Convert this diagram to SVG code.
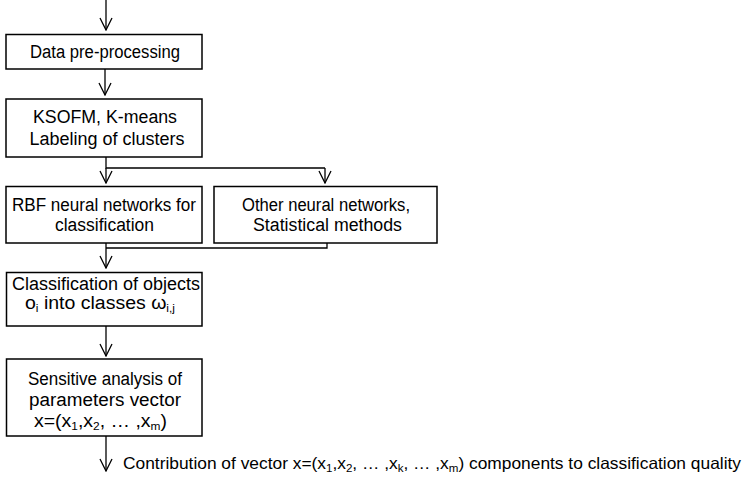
<svg xmlns="http://www.w3.org/2000/svg" width="746" height="478" viewBox="0 0 746 478">
  <style>
    .box { fill: #ffffff; stroke: #000000; stroke-width: 1.5; }
    .wire { fill: none; stroke: #000000; stroke-width: 1.3; }
    .lbl { font-family: "Liberation Sans", Arial, sans-serif; font-size: 18px; fill: #000000; text-anchor: middle; }
    .note { font-family: "Liberation Sans", Arial, sans-serif; font-size: 16.5px; fill: #000000; }
    .sub { font-size: 11px; }
  </style>
  <defs>
    <!-- open "V" arrowhead, tip at the end of the line -->
    <marker id="arrow" viewBox="0 0 14 14" refX="13" refY="7" markerWidth="14" markerHeight="14" markerUnits="userSpaceOnUse" orient="auto">
      <path d="M1,1 L13,7 L1,13" fill="none" stroke="#000000" stroke-width="1.3"/>
    </marker>
  </defs>
  <rect width="746" height="478" fill="#ffffff"/>

  <g id="connectors">
    <!-- input -->
    <path class="wire" d="M106,0 V30" marker-end="url(#arrow)"/>
    <!-- pre-processing to clustering -->
    <path class="wire" d="M105,69 V95" marker-end="url(#arrow)"/>
    <!-- branch to the two classifier families -->
    <path class="wire" d="M106,157 V168 H325"/>
    <path class="wire" d="M106,168 V183" marker-end="url(#arrow)"/>
    <path class="wire" d="M325,168 V183" marker-end="url(#arrow)"/>
    <!-- merge into classification -->
    <path class="wire" d="M327,243 V248 H106"/>
    <path class="wire" d="M106,243 V268" marker-end="url(#arrow)"/>
    <!-- classification to sensitivity analysis -->
    <path class="wire" d="M106,326 V356" marker-end="url(#arrow)"/>
    <!-- output -->
    <path class="wire" d="M106,436 V471" marker-end="url(#arrow)"/>
  </g>

  <g id="preprocessing">
    <rect class="box" x="6" y="34.5" width="196" height="34.5"/>
    <text class="lbl" x="105" y="58" textLength="150" lengthAdjust="spacingAndGlyphs">Data pre-processing</text>
  </g>

  <g id="clustering">
    <rect class="box" x="6" y="99" width="196" height="58"/>
    <text class="lbl" x="105" y="123" textLength="144" lengthAdjust="spacingAndGlyphs">KSOFM, K-means</text>
    <text class="lbl" x="107" y="145" textLength="155" lengthAdjust="spacingAndGlyphs">Labeling of clusters</text>
  </g>

  <g id="rbf">
    <rect class="box" x="6" y="186.5" width="196" height="56.5"/>
    <text class="lbl" x="104" y="211" textLength="184" lengthAdjust="spacingAndGlyphs">RBF neural networks for</text>
    <text class="lbl" x="104.5" y="231" textLength="99" lengthAdjust="spacingAndGlyphs">classification</text>
  </g>

  <g id="other-methods">
    <rect class="box" x="214" y="186.5" width="223" height="56.5"/>
    <text class="lbl" x="326" y="211" textLength="168" lengthAdjust="spacingAndGlyphs">Other neural networks,</text>
    <text class="lbl" x="327.5" y="231" textLength="149" lengthAdjust="spacingAndGlyphs">Statistical methods</text>
  </g>

  <g id="classification">
    <rect class="box" x="6.5" y="272.5" width="195.5" height="53.5"/>
    <text class="lbl" x="106" y="290" textLength="188" lengthAdjust="spacingAndGlyphs">Classification of objects</text>
    <text class="lbl" x="100" y="309" textLength="150" lengthAdjust="spacingAndGlyphs">o<tspan class="sub" dy="3">i</tspan><tspan dy="-3"> into classes ω</tspan><tspan class="sub" dy="3">i,j</tspan></text>
  </g>

  <g id="sensitivity">
    <rect class="box" x="6.5" y="359" width="195.5" height="77"/>
    <text class="lbl" x="105" y="385" textLength="154" lengthAdjust="spacingAndGlyphs">Sensitive analysis of</text>
    <text class="lbl" x="105" y="406" textLength="152" lengthAdjust="spacingAndGlyphs">parameters vector</text>
    <text class="lbl" x="100.5" y="427" textLength="133" lengthAdjust="spacingAndGlyphs">x=(x<tspan class="sub" dy="3">1</tspan><tspan dy="-3">,x</tspan><tspan class="sub" dy="3">2</tspan><tspan dy="-3">, … ,x</tspan><tspan class="sub" dy="3">m</tspan><tspan dy="-3">)</tspan></text>
  </g>

  <g id="result">
    <text class="note" x="123" y="469" textLength="618" lengthAdjust="spacingAndGlyphs">Contribution of vector x=(x<tspan class="sub" dy="3">1</tspan><tspan dy="-3">,x</tspan><tspan class="sub" dy="3">2</tspan><tspan dy="-3">, … ,x</tspan><tspan class="sub" dy="3">k</tspan><tspan dy="-3">, … ,x</tspan><tspan class="sub" dy="3">m</tspan><tspan dy="-3">) components to classification quality</tspan></text>
  </g>
</svg>
